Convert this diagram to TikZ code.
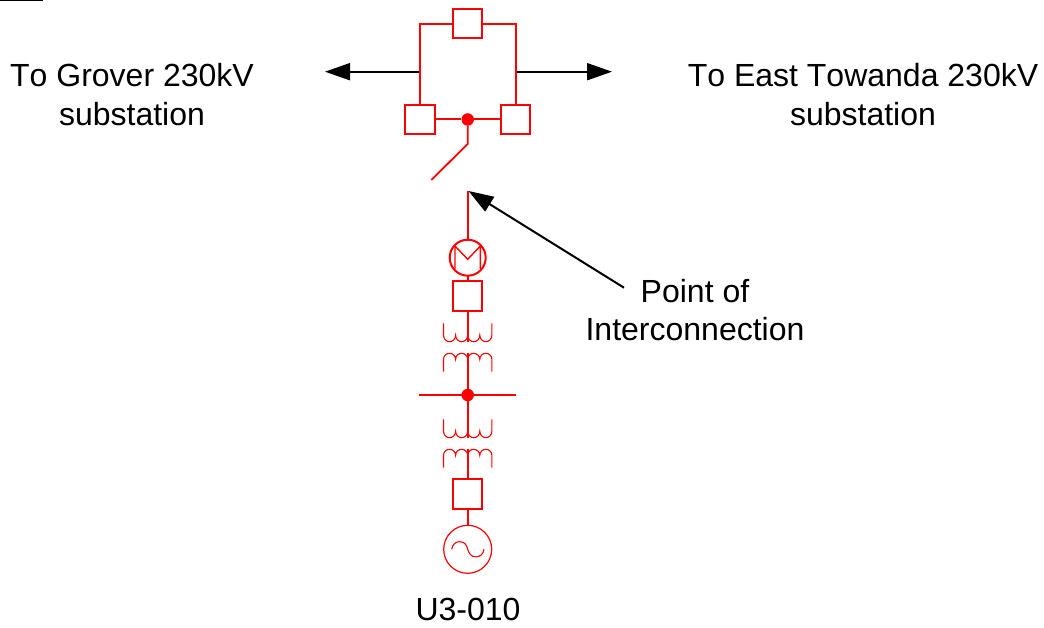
\documentclass[tikz,border=0pt]{standalone}
\usepackage{fontspec}
\setmainfont[Kerning=Off]{Liberation Sans}
\usetikzlibrary{arrows.meta}
\definecolor{pwr}{RGB}{255,0,0}
\tikzset{
  breaker/.style={draw=pwr,line width=2pt,fill=white,minimum size=29.5pt,inner sep=0pt,outer sep=0pt},
  wire/.style={draw=pwr,line width=2pt},
  thinwire/.style={draw=pwr,line width=1.1pt},
  busdot/.style={circle,fill=pwr,minimum size=12.5pt,inner sep=0pt,outer sep=0pt},
  ring/.style={circle,draw=pwr,inner sep=0pt,outer sep=0pt},
  label/.style={align=center,inner sep=0pt,text=black,font=\fontsize{32}{38.5}\selectfont},
  flow/.style={draw=black,line width=2pt,-{Triangle[length=25pt,width=17pt]}},
  coilup/.pic={\draw[thinwire] (-24.2,0) -- (-24.2,11.9) arc[start angle=180,end angle=0,x radius=6.05,y radius=6.5] arc[start angle=180,end angle=0,x radius=6.05,y radius=6.5] arc[start angle=180,end angle=0,x radius=6.05,y radius=6.5] arc[start angle=180,end angle=0,x radius=6.05,y radius=6.5] -- (24.2,0);},
  coildown/.pic={\draw[thinwire] (-24.2,18.4) -- (-24.2,6) arc[start angle=180,end angle=360,x radius=6.05,y radius=6] arc[start angle=180,end angle=360,x radius=6.05,y radius=6] arc[start angle=180,end angle=360,x radius=6.05,y radius=6] arc[start angle=180,end angle=360,x radius=6.05,y radius=6] -- (24.2,18.4);},
}
\begin{document}
\begin{tikzpicture}[x=1pt,y=-1pt]
\useasboundingbox (0,0) rectangle (1044,628);
\coordinate (ruleA) at (0,0.5); \coordinate (ruleB) at (43,0.5);
\draw[black,line width=1.6pt] (ruleA) -- (ruleB);

\coordinate (railL) at (420,23.7);
\coordinate (railR) at (515.7,23.7);
\coordinate (tapL) at (420,71.7);
\coordinate (tapR) at (515.7,71.7);
\coordinate (arrowL) at (325,71.7);
\coordinate (arrowR) at (612,71.7);
\coordinate (hinge) at (467.7,144);
\coordinate (blade) at (431.3,180);
\coordinate (poi) at (467.7,191);
\coordinate (poiArrowTip) at (468.5,191);
\coordinate (poiArrowTail) at (624,287.7);
\coordinate (busL) at (419.3,395);
\coordinate (busR) at (516,395);
\coordinate (c1a) at (467.7,341.7);
\coordinate (c1b) at (467.7,353.3);
\coordinate (c2a) at (467.7,437.7);
\coordinate (c2b) at (467.7,449.3);

\draw[flow] (tapL) -- (arrowL);
\draw[flow] (tapR) -- (arrowR);

\node[breaker] (top) at (467.7,23.7) {};
\node[breaker] (bl) at (419.8,119.5) {};
\node[breaker] (br) at (515.5,119.5) {};
\node[busdot] (d1) at (467.7,119.5) {};
\node[ring,line width=2pt,minimum size=36pt] (tx) at (467.7,257.7) {};
\node[breaker] (b2) at (467.7,296.2) {};
\node[busdot] (d2) at (467.7,395) {};
\node[breaker] (b3) at (467.7,494.2) {};
\node[ring,line width=1.2pt,minimum size=48pt] (gen) at (467.7,549.3) {};

\draw[wire] (top.west) -- (railL) -- (bl.north -| railL);
\draw[wire] (top.east) -- (railR) -- (br.north -| railR);
\draw[wire] (bl.east) -- (d1);
\draw[wire] (d1) -- (br.west);
\draw[wire,line width=1.8pt] (d1) -- (hinge) -- (blade);
\draw[wire] (poi) -- (tx.north);
\draw[wire] (tx.south) -- (b2.north);
\draw[wire] (b2.south) -- (c1a);
\draw[wire] (c1b) -- (d2);
\draw[wire] (busL) -- (busR);
\draw[wire] (d2) -- (c2a);
\draw[wire] (c2b) -- (b3.north);
\draw[wire] (b3.south) -- (gen.north);

\draw[thinwire,line width=1.4pt] (455,269) -- (455,246) -- (467.7,259.3) -- (480.4,246) -- (480.4,269);

\pic at (467.7,323.3) {coilup};
\pic at (467.7,353.3) {coildown};
\pic at (467.7,419.3) {coilup};
\pic at (467.7,449.3) {coildown};

\draw[thinwire] (451.7,549.3) .. controls (452.5,544) and (456,541.7) .. (459.5,541.7) .. controls (465,541.7) and (466.5,545) .. (467.7,549.3) .. controls (469,553.5) and (471,556.9) .. (476,556.9) .. controls (480,556.9) and (483.5,554) .. (484,549.3);

\node[label] (grover) at (132,94.5) {To Grover 230kV\\substation};
\node[label] (east) at (863,94.5) {To East Towanda 230kV\\substation};
\node[label] (poilabel) at (695,310.2) {Point of\\Interconnection};
\node[label] (unit) at (468,609.5) {U3-010};

\draw[draw=black,line width=2pt,-{Triangle[length=25pt,width=17pt]}] (poiArrowTail) -- (poiArrowTip);
\end{tikzpicture}
\end{document}
